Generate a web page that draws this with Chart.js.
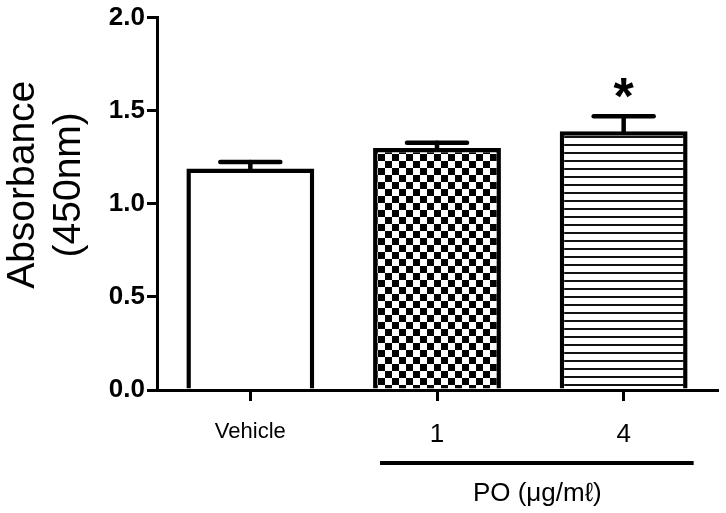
<!DOCTYPE html>
<html><head><meta charset="utf-8">
<script src="https://cdn.jsdelivr.net/npm/chart.js@4"></script>
<style>html,body{margin:0;padding:0;background:#fff}</style>
</head><body>
<canvas id="c" width="726" height="513" style="width:726px;height:513px;display:block"></canvas>
<script>
const categories = ['Vehicle', '1', '4'];
const means = [1.19, 1.30, 1.39];
const errUpper = [1.225, 1.328, 1.47];
const yTicks = [0.0, 0.5, 1.0, 1.5, 2.0];
const significance = ['', '', '*'];
const groupLabel = 'PO (μg/mℓ)';
const yTitle = ['Absorbance', '(450nm)'];

const FONT = '"Liberation Sans", Arial, sans-serif';

function checker() {
  const c = document.createElement('canvas'); c.width = 14; c.height = 14;
  const g = c.getContext('2d');
  g.fillStyle = '#fff'; g.fillRect(0,0,14,14);
  g.fillStyle = '#000'; g.fillRect(0,0,7,7); g.fillRect(7,7,7,7);
  return g.createPattern(c, 'repeat');
}
function hlines() {
  const c = document.createElement('canvas'); c.width = 8; c.height = 8;
  const g = c.getContext('2d');
  g.fillStyle = '#fff'; g.fillRect(0,0,8,8);
  g.fillStyle = '#111'; g.fillRect(0,0,8,2);
  return g.createPattern(c, 'repeat');
}
const ctx = document.getElementById('c').getContext('2d');
const fills = ['#ffffff', checker(), hlines()];

const extras = {
  id: 'extras',
  afterDatasetsDraw(chart) {
    const g = chart.ctx, xs = chart.scales.x, ys = chart.scales.y;
    g.save();
    g.strokeStyle = '#000'; g.fillStyle = '#000';
    g.lineCap = 'round';
    for (let i = 0; i < means.length; i++) {
      const x = xs.getPixelForValue(i);
      const yt = ys.getPixelForValue(means[i]);
      const yc = ys.getPixelForValue(errUpper[i]);
      g.lineWidth = 4.5;
      g.beginPath(); g.moveTo(x, yt); g.lineTo(x, yc); g.stroke();
      g.beginPath(); g.moveTo(x - 30, yc); g.lineTo(x + 30, yc); g.stroke();
      if (significance[i]) {
        g.font = 'bold 52px ' + FONT;
        g.textAlign = 'center'; g.textBaseline = 'alphabetic';
        g.fillText(significance[i], x, yc - 2);
      }
    }
    // group line under PO doses
    const x1 = xs.getPixelForValue(1), x2 = xs.getPixelForValue(2);
    g.lineCap = 'butt'; g.lineWidth = 4;
    g.beginPath(); g.moveTo(x1 - 57, 463); g.lineTo(x2 + 70, 463); g.stroke();
    g.font = '26px ' + FONT;
    g.textAlign = 'center'; g.textBaseline = 'middle';
    g.fillText(groupLabel, (x1 + x2) / 2 + 7, 494);
    // y axis title (two lines, rotated)
    const cy = (ys.top + ys.bottom) / 2 - 19;
    g.font = '39px ' + FONT;
    g.textAlign = 'center'; g.textBaseline = 'alphabetic';
    const baselines = [34, 80];
    for (let k = 0; k < yTitle.length; k++) {
      g.save();
      g.translate(baselines[k], cy);
      g.rotate(-Math.PI / 2);
      g.fillText(yTitle[k], 0, 0);
      g.restore();
    }
    g.restore();
  }
};

new Chart(ctx, {
  type: 'bar',
  data: {
    labels: categories,
    datasets: [{
      data: means,
      backgroundColor: fills,
      borderColor: '#000',
      borderWidth: 4.5,
      borderSkipped: 'start',
      categoryPercentage: 1.0,
      barPercentage: 0.685
    }]
  },
  options: {
    responsive: false,
    animation: false,
    devicePixelRatio: 1,
    layout: { padding: { top: 17, right: 9, left: 0, bottom: 0 } },
    plugins: { legend: { display: false }, tooltip: { enabled: false } },
    scales: {
      x: {
        afterFit(s) { s.height = 123; },
        grid: { display: true, drawOnChartArea: false, offset: false, tickLength: 11, lineWidth: 3, color: '#000' },
        border: { display: true, width: 3, color: '#000' },
        ticks: {
          color: '#000', padding: 18,
          font: (c) => c.index === 0 ? { family: FONT, size: 22 } : { family: FONT, size: 26 }
        }
      },
      y: {
        min: 0, max: 2.0,
        afterFit(s) { s.width = 157; },
        afterBuildTicks(s) { s.ticks = yTicks.map(v => ({ value: v })); },
        grid: { display: true, drawOnChartArea: false, tickLength: 10, lineWidth: 3, color: '#000' },
        border: { display: true, width: 3, color: '#000' },
        ticks: {
          color: '#000', padding: 2,
          font: { family: FONT, size: 26, weight: 'bold' },
          callback: (v) => Number(v).toFixed(1)
        }
      }
    }
  },
  plugins: [extras]
});
</script>
</body></html>
